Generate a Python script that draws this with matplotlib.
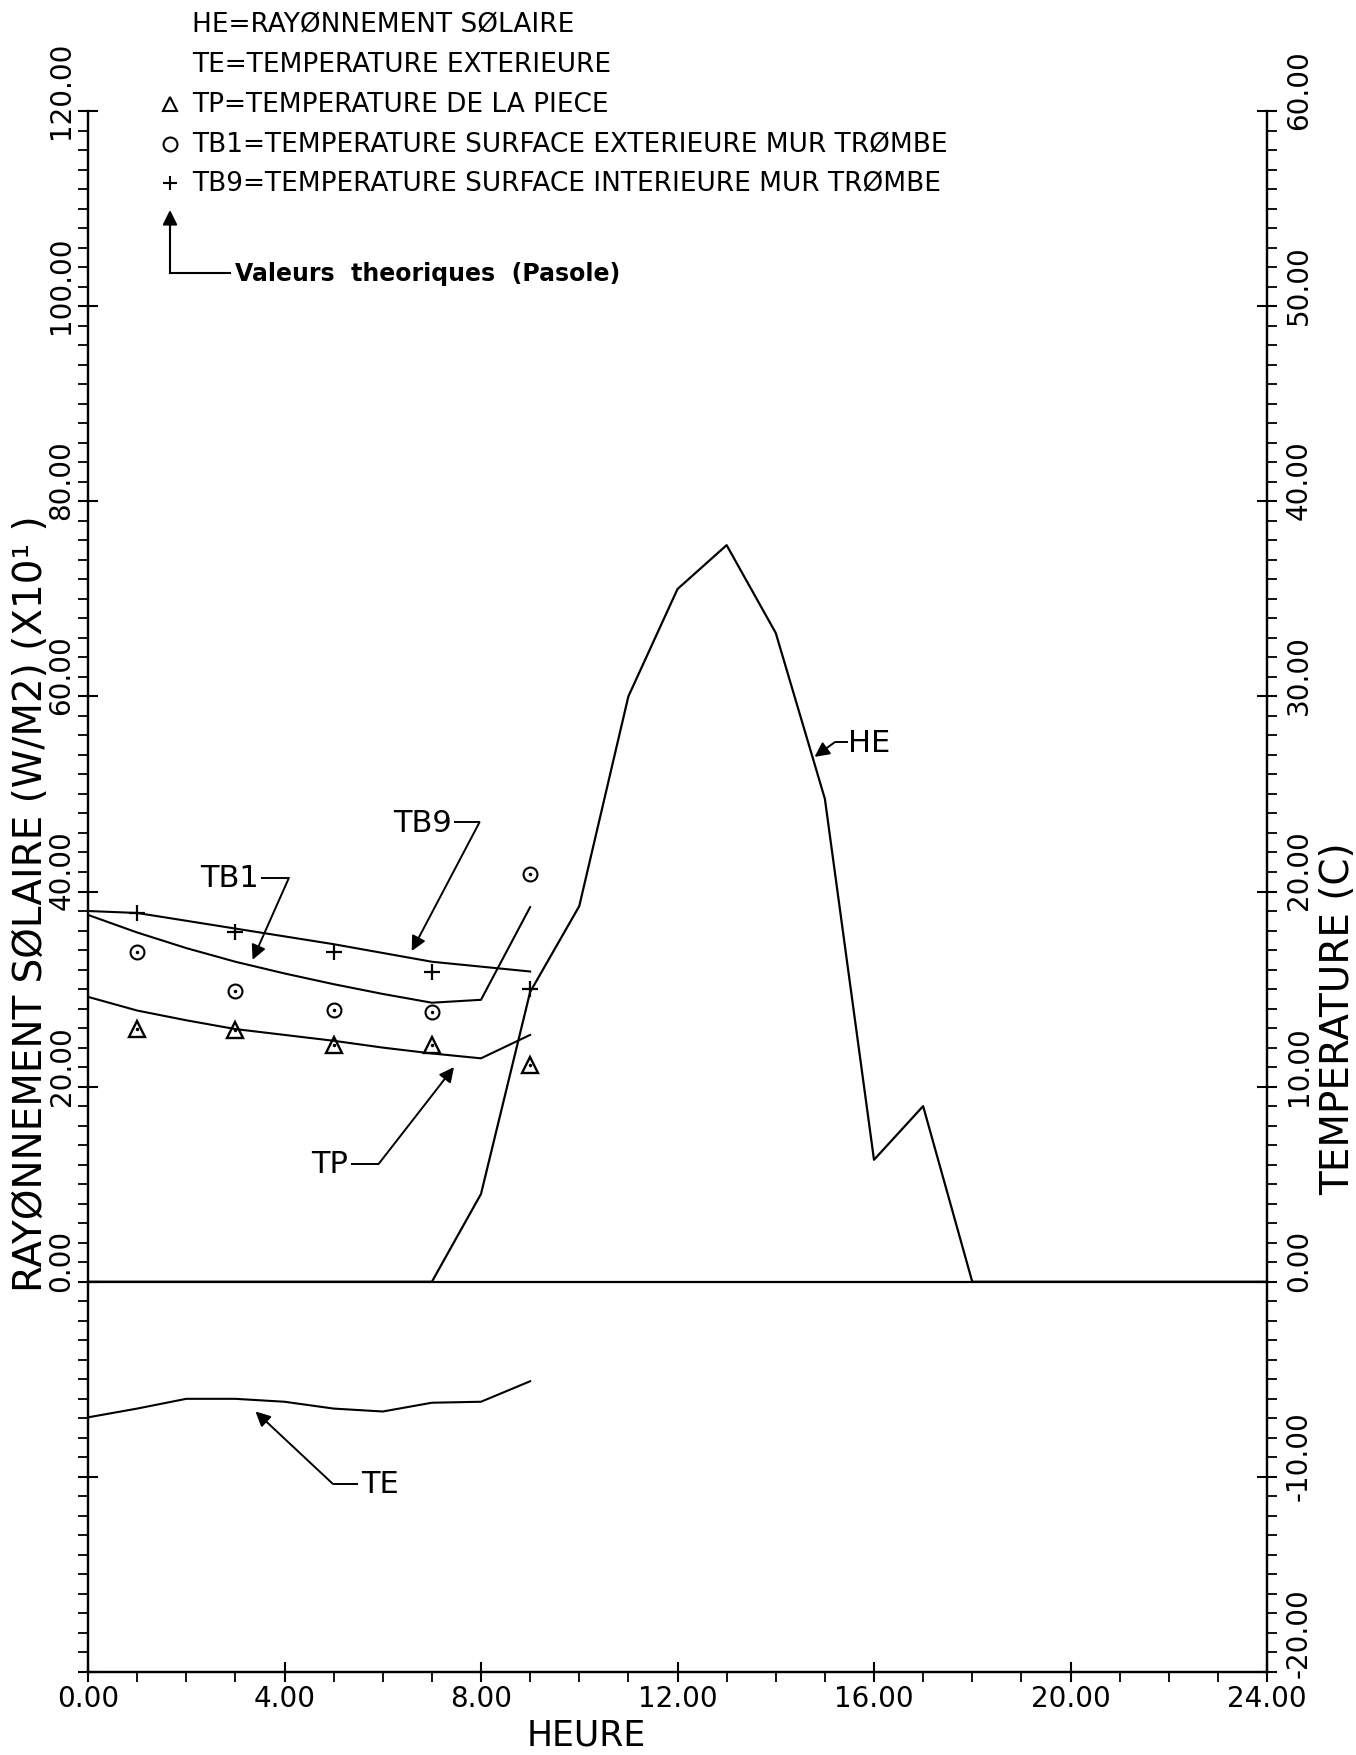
import matplotlib
matplotlib.use('Agg')
import matplotlib.pyplot as plt
import matplotlib.transforms as mtransforms
from matplotlib.lines import Line2D
from matplotlib.ticker import MultipleLocator, FixedLocator, FuncFormatter

plt.rcParams['font.family'] = ['DejaVu Sans']

# Rayonnement solaire HE (W/m2 x10), pas horaire sur 24 h
heures = list(range(0, 25))
he = [0, 0, 0, 0, 0, 0, 0, 0, 9.0, 29.7, 38.5, 60.0, 71.0, 75.5,
      66.5, 49.5, 12.5, 18.0, 0, 0, 0, 0, 0, 0, 0]

# Temperatures (C) de 0 h a 9 h
heures_temp = [0, 1, 2, 3, 4, 5, 6, 7, 8, 9]
tb9 = [19.0, 18.9, 18.5, 18.1, 17.7, 17.3, 16.85, 16.4, 16.15, 15.9]
tb1 = [18.8, 17.9, 17.1, 16.4, 15.8, 15.25, 14.75, 14.3, 14.45, 19.2]
tp = [14.6, 13.9, 13.4, 12.95, 12.65, 12.35, 12.0, 11.7, 11.45, 12.65]
te = [-6.95, -6.5, -6.0, -6.0, -6.15, -6.5, -6.65, -6.2, -6.15, -5.1]

# Valeurs theoriques (Pasole)
heures_pasole = [1, 3, 5, 7, 9]
tb9_pasole = [18.9, 17.95, 16.9, 15.9, 15.0]
tb1_pasole = [16.9, 14.9, 13.95, 13.8, 20.9]
tp_pasole = [12.95, 12.9, 12.15, 12.15, 11.1]

W, H = 1356, 1756


def fx(px):
    return px / W


def fy(py):
    return 1 - py / H


def fleche(ax, texte, x_texte, y, ha, trait, pointe):
    """Etiquette + trait horizontal + fleche vers la courbe."""
    ax.text(x_texte, y, texte, ha=ha, va='center', fontsize=22)
    ax.plot(trait, [y, y], color='k', lw=1.4, solid_capstyle='butt')
    ax.annotate('', xy=pointe, xytext=(trait[1], y),
                arrowprops=dict(arrowstyle='-|>', color='k', lw=1.4,
                                mutation_scale=22, shrinkA=0, shrinkB=0))


fig = plt.figure(figsize=(W / 100, H / 100), dpi=100)
ax = fig.add_axes([fx(88), fy(1673), fx(1267 - 88), (1673 - 112) / H])
ax2 = ax.twinx()

ax.set_xlim(0, 24)
ax.set_ylim(-40, 120)
ax2.set_ylim(-20, 60)

# courbes
ax.plot(heures, he, color='k', lw=1.6)
ax.axhline(0, color='k', lw=1.6)

for serie in (tb9, tb1, tp, te):
    ax2.plot(heures_temp, serie, color='k', lw=1.5)

ax2.plot(heures_pasole, tb9_pasole, 'k+', ms=12, mew=1.6)
ax2.plot(heures_pasole, tb1_pasole, 'ko', mfc='none', ms=10, mew=1.5)
ax2.plot(heures_pasole, tb1_pasole, 'k.', ms=3)
ax2.plot(heures_pasole, tp_pasole, 'k^', mfc='none', ms=12, mew=1.7)
ax2.plot(heures_pasole, tp_pasole, 'k.', ms=3)

# axes
for a in (ax, ax2):
    a.spines['top'].set_visible(False)
    for s in ('left', 'right', 'bottom'):
        a.spines[s].set_linewidth(1.6)

fmt2 = FuncFormatter(lambda v, p: f'{v:.2f}')
ax.xaxis.set_major_locator(MultipleLocator(4))
ax.xaxis.set_minor_locator(MultipleLocator(1))
ax.xaxis.set_major_formatter(fmt2)

ax.yaxis.set_major_locator(FixedLocator(list(range(-40, 121, 20))))
ax.yaxis.set_minor_locator(MultipleLocator(2))
ax.yaxis.set_major_formatter(FuncFormatter(lambda v, p: '' if v < 0 else f'{v:.2f}'))

ax2.yaxis.set_major_locator(FixedLocator(list(range(-20, 61, 10))))
ax2.yaxis.set_minor_locator(MultipleLocator(1))
ax2.yaxis.set_major_formatter(fmt2)

for a in (ax, ax2):
    a.tick_params(which='major', direction='inout', length=14, width=1.5,
                  labelsize=20)
    a.tick_params(which='minor', direction='out', length=7, width=1.3)
ax.tick_params(axis='x', pad=2)
ax.tick_params(axis='y', labelrotation=90, pad=2)
ax2.tick_params(axis='y', labelrotation=90, pad=6)

# libelles verticaux un peu au-dessus de leur graduation
decal = mtransforms.ScaledTranslation(0, 0.22, fig.dpi_scale_trans)
decal_bas = mtransforms.ScaledTranslation(0, 0.40, fig.dpi_scale_trans)
ticks_droite = ax2.yaxis.get_major_ticks()
for tick in ax.yaxis.get_major_ticks() + ticks_droite:
    d = decal_bas if tick is ticks_droite[0] else decal
    for lab in (tick.label1, tick.label2):
        lab.set_va('center')
        lab.set_transform(lab.get_transform() + d)

ax.set_xlabel('HEURE', fontsize=25)
ax.xaxis.set_label_coords((586 - 88) / 1179, (1673 - 1736) / 1561)
ax.xaxis.label.set_va('center')

ax.set_ylabel('RAYØNNEMENT SØLAIRE (W/M2) (X10¹ )', fontsize=28,
              va='center', ha='center')
ax.yaxis.set_label_coords((31 - 88) / 1179, (1673 - 904) / 1561)

ax2.set_ylabel('TEMPERATURE (C)', fontsize=28, rotation=90,
               va='center', ha='center')
ax2.yaxis.set_label_coords((1338 - 88) / 1179, (1673 - 1019) / 1561)

# etiquettes des courbes
fleche(ax, 'TB1', 3.48, 41.4, 'right', [3.52, 4.09], (3.35, 33.0))
fleche(ax, 'TB9', 7.40, 47.1, 'right', [7.45, 7.97], (6.59, 33.9))
fleche(ax, 'TP', 5.30, 12.1, 'right', [5.36, 5.92], (7.45, 22.0))
fleche(ax, 'HE', 15.48, 55.3, 'left', [15.47, 15.2], (14.79, 53.8))
fleche(ax, 'TE', 5.55, -20.7, 'left', [5.5, 4.98], (3.41, -13.3))

# legende en tete
legende = [
    (25, None, 'HE=RAYØNNEMENT SØLAIRE'),
    (65, None, 'TE=TEMPERATURE EXTERIEURE'),
    (105, '^', 'TP=TEMPERATURE DE LA PIECE'),
    (145, 'o', 'TB1=TEMPERATURE SURFACE EXTERIEURE MUR TRØMBE'),
    (184, '+', 'TB9=TEMPERATURE SURFACE INTERIEURE MUR TRØMBE'),
]
for y, marq, texte in legende:
    fig.text(fx(192), fy(y), texte, ha='left', va='center', fontsize=19)
    if marq:
        fig.add_artist(Line2D([fx(170)], [fy(y)], marker=marq, color='k',
                              mfc='none', ms=10, mew=1.5, ls='none'))

fig.add_artist(Line2D([fx(170), fx(230)], [fy(274), fy(274)], color='k', lw=1.5))
fig.add_artist(Line2D([fx(170), fx(170)], [fy(274), fy(228)], color='k', lw=1.5))
ax.annotate('', xy=(fx(170), fy(211)), xytext=(fx(170), fy(232)),
            xycoords='figure fraction', textcoords='figure fraction',
            arrowprops=dict(arrowstyle='-|>', color='k', lw=1.5,
                            mutation_scale=22, shrinkA=0, shrinkB=0))
fig.text(fx(235), fy(274), 'Valeurs  theoriques  (Pasole)', ha='left',
         va='center', fontsize=17, fontweight='bold')

fig.savefig('out.png', dpi=100)
